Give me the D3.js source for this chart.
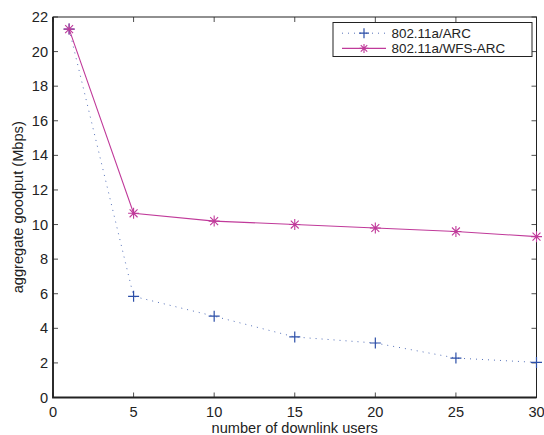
<!DOCTYPE html>
<html><head><meta charset="utf-8">
<script src="https://cdn.jsdelivr.net/npm/d3@7"></script>
<style>body{margin:0;background:#fff}svg{display:block;font-family:"Liberation Sans",Arial,sans-serif}</style>
</head><body>
<svg id="c" width="544" height="435"></svg>
<script>
const users = [1, 5, 10, 15, 20, 25, 30];
const arc = [21.3, 5.85, 4.7, 3.5, 3.15, 2.28, 2.03];
const wfsArc = [21.3, 10.65, 10.2, 10.0, 9.8, 9.6, 9.3];
const xTicks = [0, 5, 10, 15, 20, 25, 30];
const yTicks = [0, 2, 4, 6, 8, 10, 12, 14, 16, 18, 20, 22];
const seriesNames = ["802.11a/ARC", "802.11a/WFS-ARC"];

const svg = d3.select("#c");
const L = 53, R = 536.5, T = 17, B = 397.5;
const x = d3.scaleLinear().domain([0, 30]).range([L, R]);
const y = d3.scaleLinear().domain([0, 22]).range([B, T]);
const ink = "#222";
const fs = 14.6;

const tl = 5;
const g = svg.append("g");
xTicks.forEach(v => {
  g.append("line").attr("x1", x(v)).attr("x2", x(v)).attr("y1", B).attr("y2", B - tl).attr("stroke", ink).attr("stroke-width", 0.8);
  g.append("line").attr("x1", x(v)).attr("x2", x(v)).attr("y1", T).attr("y2", T + tl).attr("stroke", ink).attr("stroke-width", 0.8);
  g.append("text").attr("x", x(v)).attr("y", B + 19).attr("text-anchor", "middle").attr("font-size", fs).attr("fill", ink).text(v);
});
yTicks.forEach(v => {
  g.append("line").attr("x1", L).attr("x2", L + tl).attr("y1", y(v)).attr("y2", y(v)).attr("stroke", ink).attr("stroke-width", 0.8);
  g.append("line").attr("x1", R).attr("x2", R - tl).attr("y1", y(v)).attr("y2", y(v)).attr("stroke", ink).attr("stroke-width", 0.8);
  g.append("text").attr("x", L - 5).attr("y", y(v) + 5).attr("text-anchor", "end").attr("font-size", fs).attr("fill", ink).text(v);
});
svg.append("rect").attr("x", L).attr("y", T).attr("width", R - L).attr("height", B - T)
  .attr("fill", "none").attr("stroke", ink).attr("stroke-width", 1);
svg.append("path").attr("d", `M${L},${T}V${B}H${R}`).attr("fill", "none").attr("stroke", ink).attr("stroke-width", 1.8);

const line = d3.line().x(d => x(d[0])).y(d => y(d[1]));
const arcData = users.map((u, i) => [u, arc[i]]);
const wfsData = users.map((u, i) => [u, wfsArc[i]]);
const blue = "#2c4fa8", mag = "#c03a9a";

svg.append("path").datum(arcData).attr("d", line).attr("fill", "none")
  .attr("stroke", blue).attr("stroke-width", 1).attr("stroke-dasharray", "1,5").attr("opacity", 0.8);
svg.append("path").datum(wfsData).attr("d", line).attr("fill", "none")
  .attr("stroke", mag).attr("stroke-width", 1.1);

function plus(sel, cx, cy, s, c) {
  sel.append("path").attr("d", `M${cx - s},${cy}H${cx + s}M${cx},${cy - s}V${cy + s}`)
    .attr("stroke", c).attr("stroke-width", 1.2).attr("fill", "none");
}
function star(sel, cx, cy, s, c) {
  const d = s * 0.72;
  sel.append("path").attr("d", `M${cx - s},${cy}H${cx + s}M${cx},${cy - s}V${cy + s}M${cx - d},${cy - d}L${cx + d},${cy + d}M${cx - d},${cy + d}L${cx + d},${cy - d}`)
    .attr("stroke", c).attr("stroke-width", 1.1).attr("fill", "none");
}
arcData.forEach(d => plus(svg, x(d[0]), y(d[1]), 5.5, blue));
wfsData.forEach(d => star(svg, x(d[0]), y(d[1]), 5.5, mag));

// legend
const lfs = 13.4;
const r1 = 33.2, r2 = 48.4;
const lg = svg.append("g");
lg.append("rect").attr("x", 333).attr("y", 22.5).attr("width", 199).attr("height", 34)
  .attr("fill", "#fff").attr("stroke", ink).attr("stroke-width", 1);
lg.append("line").attr("x1", 342).attr("x2", 386).attr("y1", r1).attr("y2", r1)
  .attr("stroke", blue).attr("stroke-width", 1).attr("stroke-dasharray", "1,5").attr("opacity", 0.8);
plus(lg, 364, r1, 5, blue);
lg.append("line").attr("x1", 342).attr("x2", 386).attr("y1", r2).attr("y2", r2)
  .attr("stroke", mag).attr("stroke-width", 1.1);
star(lg, 364, r2, 4.5, mag);
lg.append("text").attr("x", 391.5).attr("y", r1 + 4.8).attr("font-size", lfs).attr("fill", ink).text(seriesNames[0]);
lg.append("text").attr("x", 391.5).attr("y", r2 + 4.8).attr("font-size", lfs).attr("fill", ink).text(seriesNames[1]);

svg.append("text").attr("x", (L + R) / 2).attr("y", 433).attr("text-anchor", "middle")
  .attr("font-size", fs).attr("fill", ink).text("number of downlink users");
svg.append("text").attr("transform", `translate(23,${(T + B) / 2}) rotate(-90)`).attr("text-anchor", "middle")
  .attr("font-size", fs).attr("fill", ink).text("aggregate goodput (Mbps)");
</script>
</body></html>
